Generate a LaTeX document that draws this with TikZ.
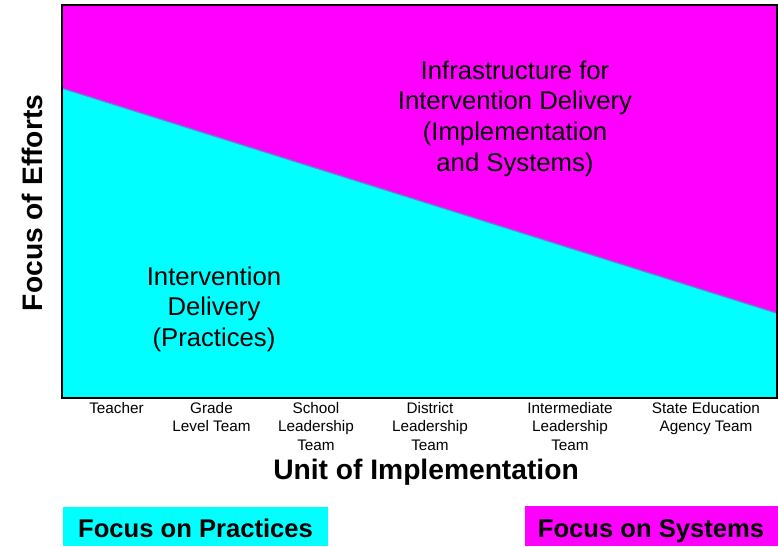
\documentclass[tikz,border=0pt]{standalone}
\usepackage{fontspec}
\setmainfont{Liberation Sans}
\definecolor{practice}{RGB}{0,255,255}
\definecolor{system}{RGB}{255,0,255}
\definecolor{divide}{RGB}{125,95,205}
\begin{document}
\begin{tikzpicture}[x=1pt,y=-1pt,
  region/.style={align=center,inner sep=0pt,anchor=base,
    font=\fontsize{25.7}{30.8}\selectfont},
  unit/.style={align=center,inner sep=0pt,anchor=base,
    font=\fontsize{15.3}{18.5}\selectfont},
  axis/.style={inner sep=0pt,font=\fontsize{28.2}{32}\selectfont\bfseries},
  tag/.style={inner sep=0pt,anchor=base,font=\fontsize{25.6}{30}\selectfont\bfseries}]
\useasboundingbox (0,0) rectangle (778,546);

% plot frame and the dividing line
\coordinate (tl) at (62,5);
\coordinate (tr) at (777,5);
\coordinate (br) at (777,398);
\coordinate (bl) at (62,398);
\coordinate (ls) at (62,88);
\coordinate (le) at (777,313);
\fill[system] (tl) -- (tr) -- (le) -- (ls) -- cycle;
\fill[practice] (ls) -- (le) -- (br) -- (bl) -- cycle;
\draw[divide,line width=1.6pt,opacity=.75] (ls) -- (le);
\draw[black,line width=1.2pt] (tl) rectangle (br);

% region labels (anchored at the baseline of the last line)
\node[region] (infra) at (515,171.4) {Infrastructure for\\Intervention Delivery\\(Implementation\\and Systems)};
\node[region] (deliv) at (214,346.6) {Intervention\\Delivery\\(Practices)};

% units along the horizontal axis
\node[unit] (u1) at (116.5,413) {Teacher};
\node[unit] (u2) at (211.5,431.5) {Grade\\Level Team};
\node[unit] (u3) at (316,450) {School\\Leadership\\Team};
\node[unit] (u4) at (430,450) {District\\Leadership\\Team};
\node[unit] (u5) at (570,450) {Intermediate\\Leadership\\Team};
\node[unit] (u6) at (706,431.5) {State Education\\Agency Team};

% axis titles
\node[axis,anchor=base] (xt) at (426,479) {Unit of Implementation};
\node[axis,anchor=base,rotate=90] (yt) at (42,203) {Focus of Efforts};

% focus tags
\fill[practice] (63,507) rectangle (328,546);
\fill[system] (525,506) rectangle (778,546);
\node[tag] (fp) at (195.5,537) {Focus on Practices};
\node[tag] (fs) at (651,537) {Focus on Systems};
\end{tikzpicture}
\end{document}
